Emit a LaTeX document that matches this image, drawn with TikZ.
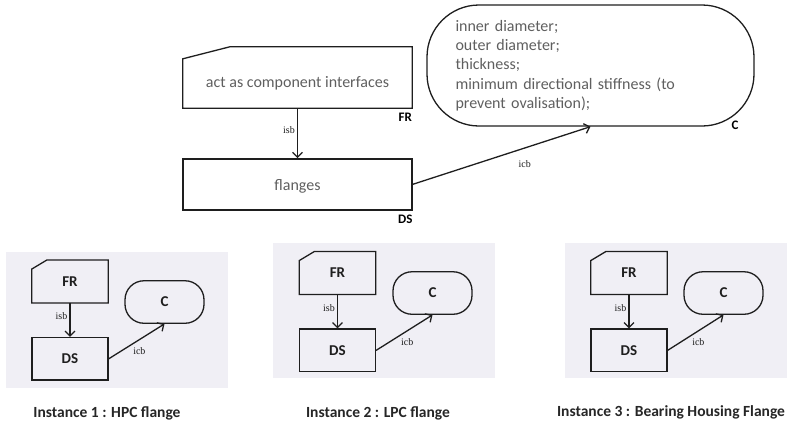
\documentclass[tikz,border=0pt]{standalone}
\usepackage{fontspec}
\setmainfont{Carlito}
\newfontfamily\relfont{Liberation Serif}
\usetikzlibrary{arrows.meta, positioning}
\definecolor{trazo}{RGB}{30,30,30}
\definecolor{texto}{RGB}{95,95,95}
\definecolor{panel}{RGB}{240,239,245}
\tikzset{
  % rectangle with its top left corner cut off
  frbox/.style 2 args={rectangle, inner sep=0pt, text=texto,
                font=\fontsize{16}{19.3}\selectfont,
                append after command={\pgfextra{
                  \draw[trazo, line width=1.3pt]
                    ([yshift=-#2]\tikzlastnode.north west) -- ([xshift=#1]\tikzlastnode.north west)
                    -- (\tikzlastnode.north east) -- (\tikzlastnode.south east)
                    -- (\tikzlastnode.south west) -- cycle;}}},
  dsbox/.style={rectangle, draw=trazo, line width=1.3pt, inner sep=0pt, text=texto,
                font=\fontsize{16}{19.3}\selectfont},
  cbox/.style={rectangle, rounded corners=#1, draw=trazo, line width=1.3pt,
               inner sep=0pt, text=texto, font=\fontsize{16}{19.3}\selectfont},
  cbox/.default=19pt,
  tag/.style={font=\fontsize{13}{15}\selectfont\bfseries, text=black, inner sep=0pt},
  rel/.style={font=\relfont\fontsize{10}{12}\selectfont, text=trazo, inner sep=2pt},
  flecha/.style={-{Straight Barb[length=5pt,width=10pt]}, line width=1.3pt, draw=trazo},
  mini/.style={minimum width=76pt, minimum height=42.5pt, text=trazo,
               font=\fontsize{15}{17}\selectfont\bfseries},
  caption/.style={font=\fontsize{15.5}{18}\selectfont\bfseries, text=black!85, inner sep=0pt}
}

\begin{document}
\begin{tikzpicture}[x=1pt, y=1pt, node distance=34pt]
  \useasboundingbox (0,0) rectangle (794,-424);

  % top level: function, design solution, constraints
  \node[frbox={47pt}{12pt}, minimum width=229pt, minimum height=61pt,
        text height=23pt, text depth=3.5pt] (fr) at (297.5,-77.5)
    {act as component interfaces};
  \node[dsbox, minimum width=229pt, minimum height=51pt,
        text height=16pt, text depth=3.5pt, below=50pt of fr] (ds) {flanges};
  \node[cbox=52pt, minimum width=327pt, minimum height=121pt,
        text width=270pt, align=left] (c) at (590.5,-65.5)
    {inner diameter;\\outer diameter;\\thickness;\\
     minimum directional stiffness (to\\prevent ovalisation);};
  \node[tag, anchor=north east] (frtag) at ([yshift=-5pt]fr.south east) {FR};
  \node[tag, anchor=north east] (dstag) at ([yshift=-4pt]ds.south east) {DS};
  \node[tag, anchor=base east] (ctag) at ([xshift=-16pt,yshift=-3pt]c.south east) {C};
  \draw[flecha] (fr) -- node[rel, left, pos=0.44] {isb} (ds);
  \draw[flecha] (ds.east) -- node[rel, below=10pt, pos=0.63] {icb} (c.south);

  % instance 1
  \fill[panel] (6,-252) rectangle (228,-388);
  \node[frbox={15pt}{9pt}, mini] (fr1) at (70,-281.5) {FR};
  \node[dsbox, mini, below=of fr1] (ds1) {DS};
  \node[cbox, mini, minimum width=79pt] (c1) at (164.5,-302) {C};
  \draw[flecha] (fr1) -- node[rel, left, pos=0.4] {isb} (ds1);
  \draw[flecha] (ds1.east) -- node[rel, below=5pt, pos=0.55] {icb} (c1.south);
  \node[caption] (cap1) at (107,-413) {Instance 1 : HPC flange};

  % instance 2
  \fill[panel] (273,-243) rectangle (495,-378);
  \node[frbox={15pt}{9pt}, mini] (fr2) at (337.5,-273) {FR};
  \node[dsbox, mini, below=of fr2] (ds2) {DS};
  \node[cbox, mini, minimum width=79pt] (c2) at (432.5,-293) {C};
  \draw[flecha] (fr2) -- node[rel, left, pos=0.4] {isb} (ds2);
  \draw[flecha] (ds2.east) -- node[rel, below=5pt, pos=0.55] {icb} (c2.south);
  \node[caption] (cap2) at (378,-413) {Instance 2 : LPC flange};

  % instance 3
  \fill[panel] (565,-243) rectangle (787,-378);
  \node[frbox={15pt}{9pt}, mini] (fr3) at (629,-273) {FR};
  \node[dsbox, mini, below=of fr3] (ds3) {DS};
  \node[cbox, mini, minimum width=79pt] (c3) at (723.5,-293) {C};
  \draw[flecha] (fr3) -- node[rel, left, pos=0.4] {isb} (ds3);
  \draw[flecha] (ds3.east) -- node[rel, below=5pt, pos=0.55] {icb} (c3.south);
  \node[caption] (cap3) at (671,-412) {Instance 3 : Bearing Housing Flange};
\end{tikzpicture}
\end{document}
